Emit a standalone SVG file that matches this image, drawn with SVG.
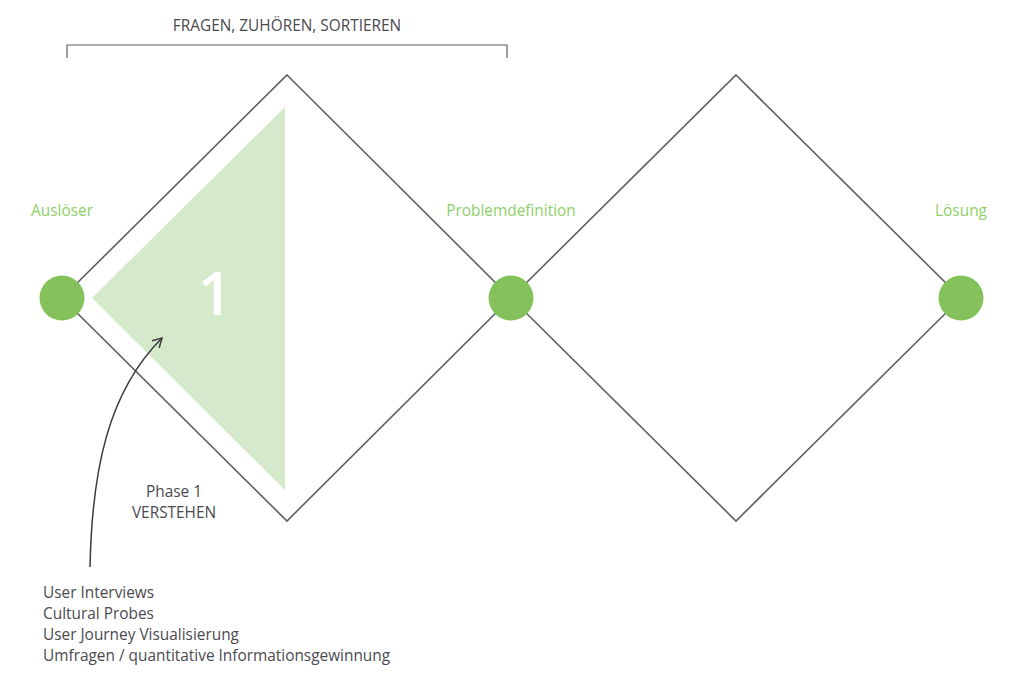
<svg xmlns="http://www.w3.org/2000/svg" width="1024" height="680" viewBox="0 0 1024 680">
<defs>
<style>
.d{fill:none;stroke:#5f5f64;stroke-width:1.6}
.c{fill:#84c15a}
.g{font-family:"Open Sans","Liberation Sans",sans-serif;font-size:15.4px;fill:#8fcf69;text-anchor:middle}
.t{font-family:"Open Sans","Liberation Sans",sans-serif;font-size:15.4px;fill:#4a4a4f}
.m{text-anchor:middle}
</style>
<marker id="ah" viewBox="0 0 12 12" refX="10" refY="6" markerWidth="12" markerHeight="12" markerUnits="userSpaceOnUse" orient="auto">
<path d="M1,1 L10,6 L1,11" fill="none" stroke="#3a3a3f" stroke-width="1.5"/>
</marker>
</defs>
<rect width="1024" height="680" fill="#fff"/>
<g id="bracket">
<path d="M67,58 V45 H507 V58" fill="none" stroke="#5f5f64" stroke-width="1.2"/>
<text class="t m" x="287" y="31">FRAGEN, ZUHÖREN, SORTIEREN</text>
</g>
<g id="phase1-fill">
<polygon points="285,107 92,298 285,490" fill="#d5eaca"/>
<text x="215" y="315" font-family="Open Sans, Liberation Sans, sans-serif" font-size="60" font-weight="600" fill="#fff" text-anchor="middle">1</text>
</g>
<g id="diamond1"><polygon class="d" points="287,75 511,298 287,521 62,298"/></g>
<g id="diamond2"><polygon class="d" points="736,75 961,298 736,521 511,298"/></g>
<g id="node-ausloeser">
<circle class="c" cx="62" cy="298" r="22.5"/>
<text class="g" x="62" y="216">Auslöser</text>
</g>
<g id="node-problemdefinition">
<circle class="c" cx="511" cy="298" r="22.5"/>
<text class="g" x="511" y="216">Problemdefinition</text>
</g>
<g id="node-loesung">
<circle class="c" cx="961" cy="298" r="22.5"/>
<text class="g" x="961" y="216">Lösung</text>
</g>
<g id="phase-label">
<text class="t m" x="174" y="497">Phase 1</text>
<text class="t m" x="174" y="518">VERSTEHEN</text>
</g>
<g id="connectors">
<path d="M90,567 C92,470 108,392 162,338" fill="none" stroke="#3a3a3f" stroke-width="1.5" marker-end="url(#ah)"/>
</g>
<g id="methods">
<text class="t" x="43" y="598">User Interviews</text>
<text class="t" x="43" y="619">Cultural Probes</text>
<text class="t" x="43" y="640">User Journey Visualisierung</text>
<text class="t" x="43" y="661">Umfragen / quantitative Informationsgewinnung</text>
</g>
</svg>
